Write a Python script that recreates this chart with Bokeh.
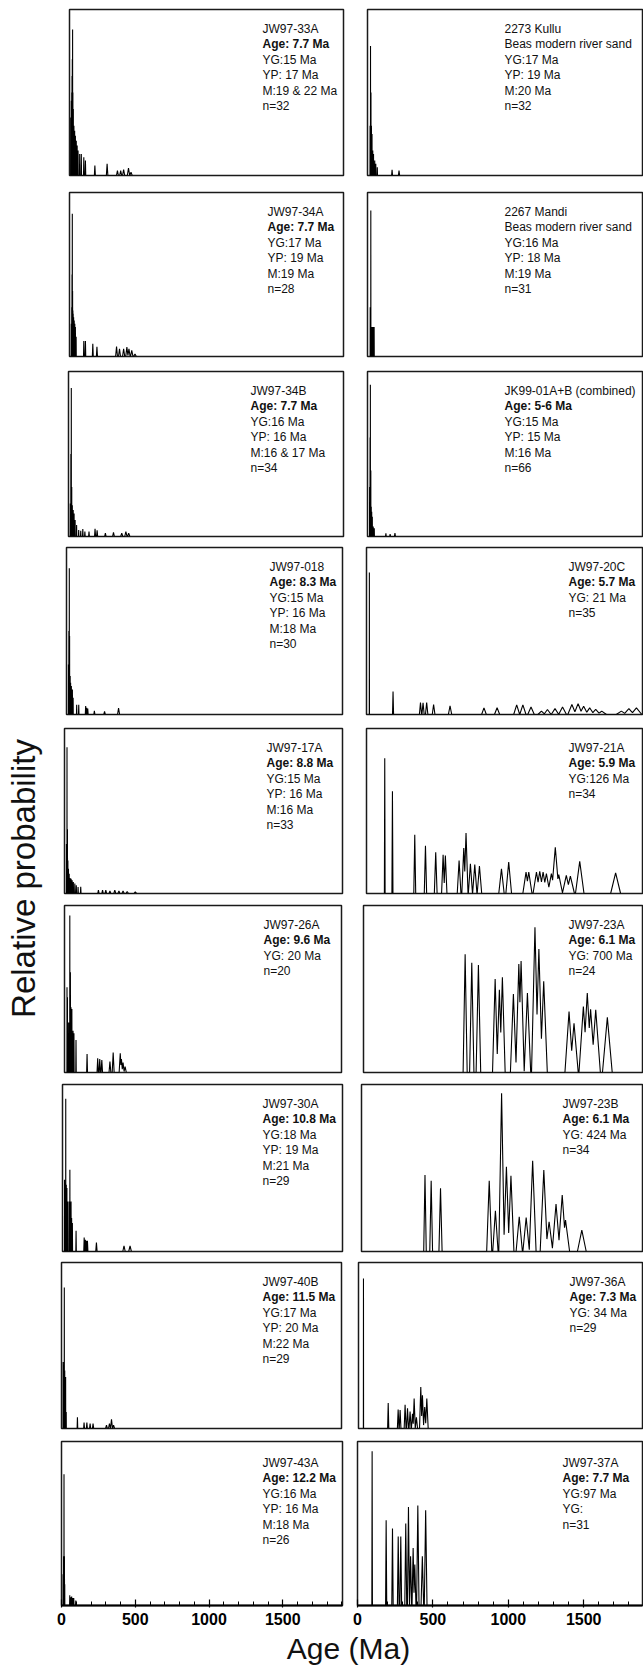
import math
from bokeh.plotting import figure
from bokeh.layouts import row, column
from bokeh.models import Range1d, Label, FixedTicker
from bokeh.embed import file_html
from bokeh.resources import INLINE

FONT = "Liberation Sans"

# ---------------- data: peak ages (Ma) and relative probability (fraction of panel height) ----------------
# left column
jw97_33a_age = [8, 12, 15, 17, 19, 21, 23, 26, 30, 35, 40, 46, 52, 58, 69, 80, 97, 108, 172, 255, 325, 347, 367, 400, 417]
jw97_33a_prob = [0.35, 0.45, 0.5, 0.6, 0.7, 0.88, 0.5, 0.4, 0.3, 0.27, 0.24, 0.21, 0.18, 0.15, 0.13, 0.13, 0.11, 0.09, 0.06, 0.07, 0.03, 0.03, 0.035, 0.045, 0.02]
jw97_33a_text = ["JW97-33A", "Age: 7.7 Ma", "YG:15 Ma", "YP: 17 Ma", "M:19 & 22 Ma", "n=32"]

jw97_34a_age = [12, 15, 17, 19, 21, 23, 25, 28, 32, 36, 40, 45, 97, 108, 158, 186, 319, 339, 367, 389, 403, 422, 444]
jw97_34a_prob = [0.2, 0.3, 0.5, 0.87, 0.4, 0.28, 0.26, 0.24, 0.22, 0.2, 0.18, 0.12, 0.094, 0.094, 0.078, 0.06, 0.06, 0.047, 0.047, 0.057, 0.047, 0.037, 0.016]
jw97_34a_text = ["JW97-34A", "Age: 7.7 Ma", "YG:17 Ma", "YP: 19 Ma", "M:19 Ma", "n=28"]

jw97_34b_age = [12, 16, 19, 22, 26, 32, 38, 45, 55, 69, 83, 97, 111, 139, 180, 194, 250, 305, 361, 389, 408]
jw97_34b_prob = [0.2, 0.5, 0.9, 0.3, 0.19, 0.16, 0.14, 0.1, 0.07, 0.04, 0.035, 0.045, 0.03, 0.03, 0.047, 0.037, 0.02, 0.025, 0.02, 0.03, 0.02]
jw97_34b_text = ["JW97-34B", "Age: 7.7 Ma", "YG:16 Ma", "YP: 16 Ma", "M:16 & 17 Ma", "n=34"]

jw97_018_age = [13, 16, 19, 21, 25, 28, 33, 40, 45, 69, 83, 130, 137, 144, 189, 258, 353]
jw97_018_prob = [0.3, 0.5, 0.875, 0.47, 0.23, 0.19, 0.17, 0.15, 0.1, 0.058, 0.058, 0.05, 0.04, 0.035, 0.022, 0.018, 0.038]
jw97_018_text = ["JW97-018", "Age: 8.3 Ma", "YG:15 Ma", "YP: 16 Ma", "M:18 Ma", "n=30"]

jw97_17a_age = [13, 17, 20, 23, 27, 32, 38, 45, 52, 60, 70, 80, 92, 110, 230, 258, 280, 308, 341, 369, 397, 425, 480]
jw97_17a_prob = [0.3, 0.886, 0.39, 0.2, 0.15, 0.12, 0.094, 0.09, 0.08, 0.07, 0.06, 0.05, 0.04, 0.04, 0.02, 0.02, 0.02, 0.015, 0.02, 0.015, 0.015, 0.012, 0.01]
jw97_17a_text = ["JW97-17A", "Age: 8.8 Ma", "YG:15 Ma", "YP: 16 Ma", "M:16 Ma", "n=33"]

jw97_26a_age = [17, 20, 28, 36, 40, 44, 50, 58, 64, 78, 153, 225, 239, 253, 308, 330, 378, 386, 397, 411]
jw97_26a_prob = [0.51, 0.45, 0.3, 0.94, 0.6, 0.39, 0.38, 0.25, 0.235, 0.195, 0.11, 0.085, 0.08, 0.075, 0.065, 0.12, 0.115, 0.08, 0.06, 0.035]
jw97_26a_text = ["JW97-26A", "Age: 9.6 Ma", "YG: 20 Ma", "n=20"]

jw97_30a_age = [14, 18, 22, 26, 30, 35, 45, 50, 58, 62, 67, 92, 147, 155, 161, 169, 230, 417, 458]
jw97_30a_prob = [0.43, 0.3, 0.914, 0.4, 0.38, 0.3, 0.3, 0.49, 0.3, 0.2, 0.17, 0.124, 0.084, 0.07, 0.064, 0.064, 0.054, 0.034, 0.034]
jw97_30a_text = ["JW97-30A", "Age: 10.8 Ma", "YG:18 Ma", "YP: 19 Ma", "M:21 Ma", "n=29"]

jw97_40b_age = [11, 15, 19, 22, 28, 32, 108, 153, 172, 194, 214, 305, 325, 339, 353]
jw97_40b_prob = [0.4, 0.3, 0.85, 0.35, 0.31, 0.1, 0.067, 0.036, 0.036, 0.03, 0.03, 0.02, 0.03, 0.055, 0.02]
jw97_40b_text = ["JW97-40B", "Age: 11.5 Ma", "YG:17 Ma", "YP: 20 Ma", "M:22 Ma", "n=29"]

jw97_43a_age = [11, 14, 17, 20, 22, 56, 62, 69, 76, 83, 97]
jw97_43a_prob = [0.19, 0.3, 0.8, 0.3, 0.13, 0.063, 0.05, 0.055, 0.045, 0.045, 0.03]
jw97_43a_text = ["JW97-43A", "Age: 12.2 Ma", "YG:16 Ma", "YP: 16 Ma", "M:18 Ma", "n=26"]

# right column
kullu_2273_age = [17, 20, 23, 26, 30, 35, 40, 48, 55, 65, 163, 209]
kullu_2273_prob = [0.3, 0.78, 0.5, 0.3, 0.25, 0.15, 0.13, 0.09, 0.07, 0.05, 0.035, 0.03]
kullu_2273_text = ["2273 Kullu", "Beas modern river sand", "YG:17 Ma", "YP: 19 Ma", "M:20 Ma", "n=32"]

mandi_2267_age = [18, 22, 25, 28, 32, 36, 40, 44]
mandi_2267_prob = [0.3, 0.89, 0.18, 0.18, 0.18, 0.18, 0.18, 0.18]
mandi_2267_text = ["2267 Mandi", "Beas modern river sand", "YG:16 Ma", "YP: 18 Ma", "M:19 Ma", "n=31"]

jk99_01ab_age = [14, 17, 19, 22, 25, 28, 32, 38, 45, 122, 150, 182]
jk99_01ab_prob = [0.3, 0.6, 0.92, 0.4, 0.18, 0.15, 0.12, 0.06, 0.05, 0.02, 0.015, 0.02]
jk99_01ab_text = ["JK99-01A+B (combined)", "Age: 5-6 Ma", "YG:15 Ma", "YP: 15 Ma", "M:16 Ma", "n=66"]

jw97_20c_age = [19, 176, 358, 375, 399, 445, 554, 779, 866, 996, 1037, 1091, 1160, 1200, 1250, 1300, 1362, 1403, 1440, 1480, 1520, 1560, 1690, 1740, 1790]
jw97_20c_prob = [0.85, 0.137, 0.072, 0.07, 0.072, 0.06, 0.052, 0.04, 0.04, 0.058, 0.058, 0.045, 0.02, 0.03, 0.035, 0.045, 0.06, 0.065, 0.05, 0.04, 0.03, 0.02, 0.02, 0.035, 0.04]
jw97_20c_text = ["JW97-20C", "Age: 5.7 Ma", "YG: 21 Ma", "n=35"]

jw97_21a_age = [121, 172, 320, 391, 459, 508, 523, 614, 645, 660, 689, 718, 749, 895, 943, 1058, 1076, 1127, 1149, 1171, 1193, 1226, 1252, 1275, 1325, 1352, 1414, 1652]
jw97_21a_prob = [0.82, 0.62, 0.356, 0.29, 0.25, 0.235, 0.23, 0.2, 0.276, 0.366, 0.18, 0.175, 0.167, 0.149, 0.19, 0.13, 0.13, 0.13, 0.135, 0.13, 0.12, 0.12, 0.28, 0.115, 0.11, 0.105, 0.195, 0.125]
jw97_21a_text = ["JW97-21A", "Age: 5.9 Ma", "YG:126 Ma", "n=34"]

jw97_23a_age = [674, 718, 762, 873, 901, 921, 994, 1030, 1045, 1087, 1137, 1163, 1195, 1363, 1396, 1458, 1484, 1506, 1540, 1617]
jw97_23a_prob = [0.708, 0.657, 0.643, 0.56, 0.496, 0.57, 0.47, 0.65, 0.667, 0.476, 0.87, 0.74, 0.546, 0.365, 0.294, 0.395, 0.476, 0.379, 0.375, 0.33]
jw97_23a_text = ["JW97-23A", "Age: 6.1 Ma", "YG: 700 Ma", "n=24"]

jw97_23b_age = [421, 462, 524, 847, 888, 929, 961, 991, 1046, 1092, 1135, 1209, 1244, 1290, 1331, 1353, 1461]
jw97_23b_prob = [0.458, 0.424, 0.378, 0.424, 0.244, 0.948, 0.508, 0.454, 0.208, 0.204, 0.544, 0.488, 0.178, 0.284, 0.338, 0.188, 0.128]
jw97_23b_text = ["JW97-23B", "Age: 6.1 Ma", "YG: 424 Ma", "n=34"]

jw97_36a_age = [33, 197, 263, 276, 309, 325, 342, 358, 369, 384, 413, 424, 439, 453]
jw97_36a_prob = [0.904, 0.153, 0.114, 0.112, 0.143, 0.122, 0.102, 0.088, 0.18, 0.067, 0.25, 0.2, 0.129, 0.18]
jw97_36a_text = ["JW97-36A", "Age: 7.3 Ma", "YG: 34 Ma", "n=29"]

jw97_37a_age = [97, 190, 232, 270, 287, 320, 338, 352, 369, 380, 400, 430, 452]
jw97_37a_prob = [0.94, 0.52, 0.47, 0.42, 0.42, 0.5, 0.6, 0.3, 0.35, 0.25, 0.61, 0.3, 0.58]
jw97_37a_text = ["JW97-37A", "Age: 7.7 Ma", "YG:97 Ma", "YG:", "n=31"]

x_major_ticks = [0, 500, 1000, 1500]
x_minor_ticks = list(range(0, 2000, 100))

left_panels = [
    (jw97_33a_age, jw97_33a_prob, jw97_33a_text, 1),
    (jw97_34a_age, jw97_34a_prob, jw97_34a_text, 1),
    (jw97_34b_age, jw97_34b_prob, jw97_34b_text, 1),
    (jw97_018_age, jw97_018_prob, jw97_018_text, 1),
    (jw97_17a_age, jw97_17a_prob, jw97_17a_text, 1),
    (jw97_26a_age, jw97_26a_prob, jw97_26a_text, 1),
    (jw97_30a_age, jw97_30a_prob, jw97_30a_text, 1),
    (jw97_40b_age, jw97_40b_prob, jw97_40b_text, 1),
    (jw97_43a_age, jw97_43a_prob, jw97_43a_text, 1),
]
right_panels = [
    (kullu_2273_age, kullu_2273_prob, kullu_2273_text, None),
    (mandi_2267_age, mandi_2267_prob, mandi_2267_text, None),
    (jk99_01ab_age, jk99_01ab_prob, jk99_01ab_text, 1),
    (jw97_20c_age, jw97_20c_prob, jw97_20c_text, 1),
    (jw97_21a_age, jw97_21a_prob, jw97_21a_text, 1),
    (jw97_23a_age, jw97_23a_prob, jw97_23a_text, 1),
    (jw97_23b_age, jw97_23b_prob, jw97_23b_text, 1),
    (jw97_36a_age, jw97_36a_prob, jw97_36a_text, 1),
    (jw97_37a_age, jw97_37a_prob, jw97_37a_text, 1),
]

# ---------------- layout (page pixels) ----------------
PAGE_W, PAGE_H = 643, 1665
W_YLAB = 46
SPLIT = 352
row_y = [0, 183, 363, 541, 720, 899, 1078, 1256, 1433, 1631]
frame_top = [9, 192, 371, 547, 728, 905, 1084, 1262, 1441]
frame_bot = [175, 356, 536, 714, 893, 1072, 1251, 1428, 1605]
left_l = [69, 69, 68, 66, 64, 64, 62, 61, 61]
left_r = [343, 343, 343, 342, 342, 341, 342, 341, 342]
right_l = [367, 367, 367, 366, 366, 363, 361, 358, 357]
right_r = 642
text_x_left = [262, 267, 250, 269, 266, 263, 262, 262, 262]
text_x_right = [504, 504, 504, 568, 568, 568, 562, 569, 562]
text_top = [19, 19, 19, 19, 19, 19, 19, 19, 21]
PX_PER_MA_LEFT = 0.1475
PX_PER_MA_RIGHT = 0.1508
TEXT_PITCH = 15.5


def peak_envelope(ages, probs):
    """Upper outline of narrow triangular peaks (one per read-off peak)."""
    tri = [(a, h, max(0.6, 0.02 * a)) for a, h in zip(ages, probs)]
    xs = set()
    for a, h, w in tri:
        xs.update((a - w, a, a + w))
    srt = sorted(tri)
    for i in range(len(srt)):
        ai, hi, wi = srt[i]
        for j in range(i + 1, len(srt)):
            aj, hj, wj = srt[j]
            if aj - wj >= ai + wi:
                break
            den = hi / wi + hj / wj
            xc = (hi + hi * ai / wi - hj + hj * aj / wj) / den
            if ai <= xc <= ai + wi and aj - wj <= xc <= aj:
                xs.add(xc)
    xs = sorted(xs)
    ys = [max(max(0.0, h * (1 - abs(x - a) / w)) for a, h, w in tri) for x in xs]
    return xs, ys


def make_panel(ages, probs, texts, bold_idx, x0, x1, fl, fr, y0, y1, ft, fb, tx, ttop, px_per_ma, bottom_axis):
    fw = fr - fl
    fh = fb - ft
    p = figure(
        width=x1 - x0, height=y1 - y0, title=None,
        x_range=Range1d(0, fw / px_per_ma), y_range=Range1d(0, 1),
        toolbar_location=None, output_backend="svg",
        x_axis_location="below" if bottom_axis else None, y_axis_location=None,
        min_border_left=fl - x0, min_border_right=x1 - fr,
        min_border_top=ft - y0, min_border_bottom=y1 - fb,
    )
    p.grid.visible = False
    p.outline_line_color = "#1a1a1a"
    p.outline_line_width = 1.5
    p.background_fill_color = "white"
    p.border_fill_color = "white"
    xs, ys = peak_envelope(ages, probs)
    p.line(xs, ys, line_color="black", line_width=1.1)
    for i, t in enumerate(texts):
        p.add_layout(Label(
            x=tx - fl, y=fh - (ttop + TEXT_PITCH * i),
            x_units="screen", y_units="screen", text=t,
            text_font=FONT, text_font_size="12px",
            text_font_style="bold" if i == bold_idx else "normal",
            text_color="#111111", text_align="left", text_baseline="middle",
        ))
    if bottom_axis:
        ax = p.xaxis[0]
        ax.ticker = FixedTicker(ticks=x_major_ticks, minor_ticks=x_minor_ticks)
        ax.axis_line_width = 2
        ax.axis_line_color = "black"
        ax.major_tick_in = 6
        ax.major_tick_out = 2
        ax.minor_tick_in = 4
        ax.minor_tick_out = 0
        ax.major_tick_line_width = 1.2
        ax.minor_tick_line_width = 1
        ax.major_label_text_font = FONT
        ax.major_label_text_font_style = "bold"
        ax.major_label_text_font_size = "16px"
        ax.major_label_text_color = "black"
        ax.major_label_standoff = 5
    return p


rows = []
n = len(left_panels)
for i in range(n):
    last = i == n - 1
    la, lp, lt, lb = left_panels[i]
    ra, rp, rt, rb = right_panels[i]
    pl = make_panel(la, lp, lt, lb, W_YLAB, SPLIT, left_l[i], left_r[i],
                    row_y[i], row_y[i + 1], frame_top[i], frame_bot[i],
                    text_x_left[i], text_top[i], PX_PER_MA_LEFT, last)
    pr = make_panel(ra, rp, rt, rb, SPLIT, PAGE_W, right_l[i], right_r,
                    row_y[i], row_y[i + 1], frame_top[i], frame_bot[i],
                    text_x_right[i], text_top[i], PX_PER_MA_RIGHT, last)
    rows.append(row(pl, pr))


def blank(w, h):
    f = figure(width=w, height=h, title=None, x_range=Range1d(0, 1), y_range=Range1d(0, 1),
               toolbar_location=None, output_backend="svg",
               x_axis_location=None, y_axis_location=None, min_border=0,
               min_border_left=0, min_border_right=0, min_border_top=0, min_border_bottom=0)
    f.grid.visible = False
    f.outline_line_color = None
    return f


ylab = blank(W_YLAB, PAGE_H)
ylab.add_layout(Label(x=23, y=PAGE_H - 878, x_units="screen", y_units="screen",
                      text="Relative probability", angle=math.pi / 2,
                      text_align="center", text_baseline="middle",
                      text_font=FONT, text_font_size="33px", text_color="#111111"))

xlab_h = PAGE_H - row_y[-1]
xlab = blank(PAGE_W - W_YLAB, xlab_h)
xlab.add_layout(Label(x=348 - W_YLAB, y=PAGE_H - 1648, x_units="screen", y_units="screen",
                      text="Age (Ma)", text_align="center", text_baseline="middle",
                      text_font=FONT, text_font_size="30px", text_color="#111111"))

layout = row(ylab, column(*rows, xlab))

open("out.html", "w").write(file_html(layout, INLINE))
